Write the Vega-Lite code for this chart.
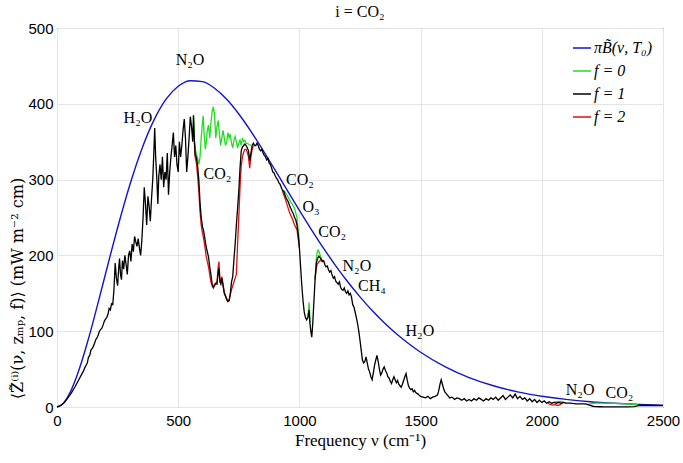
{
  "$schema": "https://vega.github.io/schema/vega-lite/v6.json",
  "width": 606,
  "height": 379,
  "autosize": "none",
  "padding": {"left": 57, "top": 28, "right": 20, "bottom": 56},
  "title": {"text": "i =  CO₂", "font": "Liberation Serif", "fontSize": 16, "fontWeight": "normal", "color": "black", "offset": 1},
  "datasets": {
    "blue": [
      {"nu": 0, "z": 0}, {"nu": 25, "z": 4.4}, {"nu": 50, "z": 16.6}, {"nu": 75, "z": 34.9}, {"nu": 100, "z": 58},
      {"nu": 125, "z": 84.7}, {"nu": 150, "z": 113.7}, {"nu": 175, "z": 144.3}, {"nu": 200, "z": 175.4}, {"nu": 225, "z": 206.4},
      {"nu": 250, "z": 236.5}, {"nu": 300, "z": 292.6}, {"nu": 350, "z": 340.5}, {"nu": 400, "z": 378.5}, {"nu": 450, "z": 406.1},
      {"nu": 500, "z": 423.2}, {"nu": 550, "z": 430.5}, {"nu": 600, "z": 429.3}, {"nu": 650, "z": 420.5}, {"nu": 700, "z": 405.9},
      {"nu": 750, "z": 386.5}, {"nu": 800, "z": 363.7}, {"nu": 850, "z": 338.7}, {"nu": 900, "z": 312.4}, {"nu": 950, "z": 285.8},
      {"nu": 1000, "z": 259.4}, {"nu": 1050, "z": 233.8}, {"nu": 1100, "z": 209.3}, {"nu": 1150, "z": 186.3}, {"nu": 1200, "z": 164.9},
      {"nu": 1250, "z": 145.3}, {"nu": 1300, "z": 127.3}, {"nu": 1350, "z": 111.2}, {"nu": 1400, "z": 96.6}, {"nu": 1450, "z": 83.7},
      {"nu": 1500, "z": 72.2}, {"nu": 1600, "z": 53.3}, {"nu": 1700, "z": 38.8}, {"nu": 1800, "z": 28.0}, {"nu": 1900, "z": 20.0},
      {"nu": 2000, "z": 14.2}, {"nu": 2100, "z": 10.0}, {"nu": 2200, "z": 7.0}, {"nu": 2300, "z": 4.9}, {"nu": 2400, "z": 3.4},
      {"nu": 2500, "z": 2.3}
    ],
    "black": [
      {"nu": 0, "z": 0}, {"nu": 15, "z": 2}, {"nu": 30, "z": 6}, {"nu": 45, "z": 12}, {"nu": 60, "z": 19}, {"nu": 75, "z": 27},
      {"nu": 90, "z": 36}, {"nu": 100, "z": 42}, {"nu": 110, "z": 48}, {"nu": 115, "z": 52}, {"nu": 120, "z": 55}, {"nu": 125, "z": 58},
      {"nu": 130, "z": 66}, {"nu": 135, "z": 68}, {"nu": 140, "z": 75}, {"nu": 145, "z": 77}, {"nu": 150, "z": 80}, {"nu": 155, "z": 84},
      {"nu": 160, "z": 89}, {"nu": 165, "z": 91}, {"nu": 170, "z": 95}, {"nu": 175, "z": 100}, {"nu": 180, "z": 102}, {"nu": 185, "z": 104},
      {"nu": 190, "z": 108}, {"nu": 195, "z": 113}, {"nu": 200, "z": 116}, {"nu": 205, "z": 118}, {"nu": 210, "z": 122}, {"nu": 215, "z": 130},
      {"nu": 220, "z": 128}, {"nu": 225, "z": 136}, {"nu": 230, "z": 135}, {"nu": 235, "z": 155}, {"nu": 240, "z": 190}, {"nu": 245, "z": 170},
      {"nu": 250, "z": 160}, {"nu": 255, "z": 185}, {"nu": 258, "z": 196}, {"nu": 262, "z": 175}, {"nu": 266, "z": 168}, {"nu": 270, "z": 193},
      {"nu": 275, "z": 182}, {"nu": 280, "z": 200}, {"nu": 285, "z": 188}, {"nu": 290, "z": 175}, {"nu": 295, "z": 200}, {"nu": 300, "z": 206},
      {"nu": 305, "z": 192}, {"nu": 310, "z": 215}, {"nu": 315, "z": 205}, {"nu": 320, "z": 225}, {"nu": 325, "z": 218}, {"nu": 330, "z": 212},
      {"nu": 335, "z": 222}, {"nu": 340, "z": 210}, {"nu": 345, "z": 200}, {"nu": 350, "z": 220}, {"nu": 355, "z": 250}, {"nu": 360, "z": 290},
      {"nu": 365, "z": 268}, {"nu": 370, "z": 240}, {"nu": 375, "z": 278}, {"nu": 380, "z": 265}, {"nu": 385, "z": 245}, {"nu": 390, "z": 275},
      {"nu": 395, "z": 300}, {"nu": 400, "z": 340}, {"nu": 403, "z": 368}, {"nu": 407, "z": 330}, {"nu": 412, "z": 300}, {"nu": 416, "z": 268},
      {"nu": 420, "z": 305}, {"nu": 425, "z": 320}, {"nu": 430, "z": 300}, {"nu": 435, "z": 330}, {"nu": 440, "z": 290}, {"nu": 445, "z": 310},
      {"nu": 450, "z": 300}, {"nu": 455, "z": 335}, {"nu": 460, "z": 280}, {"nu": 465, "z": 310}, {"nu": 470, "z": 330}, {"nu": 475, "z": 345},
      {"nu": 480, "z": 362}, {"nu": 485, "z": 330}, {"nu": 490, "z": 345}, {"nu": 495, "z": 320}, {"nu": 500, "z": 310}, {"nu": 505, "z": 350},
      {"nu": 510, "z": 330}, {"nu": 515, "z": 345}, {"nu": 520, "z": 365}, {"nu": 525, "z": 380}, {"nu": 530, "z": 355}, {"nu": 535, "z": 310},
      {"nu": 540, "z": 330}, {"nu": 545, "z": 355}, {"nu": 550, "z": 383}, {"nu": 555, "z": 370}, {"nu": 560, "z": 350}, {"nu": 563, "z": 385},
      {"nu": 567, "z": 350}, {"nu": 570, "z": 332}, {"nu": 575, "z": 330}, {"nu": 580, "z": 318}, {"nu": 585, "z": 300}, {"nu": 590, "z": 270},
      {"nu": 595, "z": 250}, {"nu": 600, "z": 238}, {"nu": 605, "z": 232}, {"nu": 610, "z": 222}, {"nu": 615, "z": 212}, {"nu": 620, "z": 205},
      {"nu": 625, "z": 198}, {"nu": 630, "z": 185}, {"nu": 635, "z": 175}, {"nu": 640, "z": 162}, {"nu": 645, "z": 158}, {"nu": 650, "z": 160},
      {"nu": 655, "z": 163}, {"nu": 660, "z": 162}, {"nu": 665, "z": 178}, {"nu": 668, "z": 183}, {"nu": 672, "z": 165}, {"nu": 676, "z": 162},
      {"nu": 680, "z": 170}, {"nu": 685, "z": 160}, {"nu": 690, "z": 150}, {"nu": 695, "z": 146}, {"nu": 700, "z": 142}, {"nu": 705, "z": 139},
      {"nu": 710, "z": 140}, {"nu": 715, "z": 150}, {"nu": 720, "z": 165}, {"nu": 725, "z": 172}, {"nu": 730, "z": 195}, {"nu": 735, "z": 215},
      {"nu": 740, "z": 240}, {"nu": 745, "z": 262}, {"nu": 750, "z": 285}, {"nu": 755, "z": 315}, {"nu": 760, "z": 338}, {"nu": 765, "z": 343},
      {"nu": 770, "z": 345}, {"nu": 775, "z": 347}, {"nu": 780, "z": 345}, {"nu": 785, "z": 342}, {"nu": 790, "z": 338}, {"nu": 795, "z": 325},
      {"nu": 800, "z": 335}, {"nu": 805, "z": 345}, {"nu": 810, "z": 348}, {"nu": 815, "z": 345}, {"nu": 820, "z": 345}, {"nu": 825, "z": 348},
      {"nu": 830, "z": 345}, {"nu": 835, "z": 340}, {"nu": 840, "z": 338}, {"nu": 845, "z": 340}, {"nu": 850, "z": 335}, {"nu": 855, "z": 332},
      {"nu": 860, "z": 330}, {"nu": 865, "z": 326}, {"nu": 870, "z": 328}, {"nu": 875, "z": 322}, {"nu": 880, "z": 320}, {"nu": 885, "z": 316},
      {"nu": 890, "z": 310}, {"nu": 895, "z": 309}, {"nu": 900, "z": 305}, {"nu": 905, "z": 302}, {"nu": 910, "z": 300}, {"nu": 915, "z": 296},
      {"nu": 920, "z": 294}, {"nu": 925, "z": 290}, {"nu": 930, "z": 286}, {"nu": 935, "z": 285}, {"nu": 940, "z": 280}, {"nu": 945, "z": 276},
      {"nu": 950, "z": 273}, {"nu": 955, "z": 270}, {"nu": 960, "z": 265}, {"nu": 965, "z": 262}, {"nu": 970, "z": 258}, {"nu": 975, "z": 255},
      {"nu": 980, "z": 250}, {"nu": 985, "z": 247}, {"nu": 990, "z": 240}, {"nu": 995, "z": 228}, {"nu": 1000, "z": 210}, {"nu": 1005, "z": 185},
      {"nu": 1010, "z": 160}, {"nu": 1015, "z": 140}, {"nu": 1020, "z": 125}, {"nu": 1025, "z": 118}, {"nu": 1030, "z": 115}, {"nu": 1035, "z": 118},
      {"nu": 1040, "z": 128}, {"nu": 1043, "z": 112}, {"nu": 1047, "z": 100}, {"nu": 1051, "z": 92}, {"nu": 1055, "z": 110}, {"nu": 1060, "z": 140},
      {"nu": 1065, "z": 170}, {"nu": 1070, "z": 190}, {"nu": 1075, "z": 196}, {"nu": 1080, "z": 199}, {"nu": 1085, "z": 197}, {"nu": 1090, "z": 195},
      {"nu": 1095, "z": 192}, {"nu": 1100, "z": 193}, {"nu": 1105, "z": 188}, {"nu": 1110, "z": 185}, {"nu": 1115, "z": 186}, {"nu": 1120, "z": 181},
      {"nu": 1125, "z": 178}, {"nu": 1130, "z": 180}, {"nu": 1135, "z": 174}, {"nu": 1140, "z": 170}, {"nu": 1145, "z": 172}, {"nu": 1150, "z": 166},
      {"nu": 1155, "z": 164}, {"nu": 1160, "z": 162}, {"nu": 1165, "z": 165}, {"nu": 1170, "z": 158}, {"nu": 1175, "z": 155}, {"nu": 1180, "z": 154},
      {"nu": 1185, "z": 157}, {"nu": 1190, "z": 152}, {"nu": 1195, "z": 150}, {"nu": 1200, "z": 153}, {"nu": 1205, "z": 148}, {"nu": 1210, "z": 150},
      {"nu": 1215, "z": 145}, {"nu": 1220, "z": 135}, {"nu": 1225, "z": 132}, {"nu": 1230, "z": 125}, {"nu": 1235, "z": 118}, {"nu": 1240, "z": 110},
      {"nu": 1245, "z": 100}, {"nu": 1250, "z": 88}, {"nu": 1255, "z": 75}, {"nu": 1260, "z": 62}, {"nu": 1265, "z": 58}, {"nu": 1270, "z": 60},
      {"nu": 1275, "z": 66}, {"nu": 1280, "z": 58}, {"nu": 1285, "z": 50}, {"nu": 1290, "z": 46}, {"nu": 1295, "z": 40}, {"nu": 1300, "z": 36},
      {"nu": 1305, "z": 45}, {"nu": 1310, "z": 55}, {"nu": 1315, "z": 62}, {"nu": 1320, "z": 68}, {"nu": 1325, "z": 60}, {"nu": 1330, "z": 50},
      {"nu": 1335, "z": 42}, {"nu": 1340, "z": 45}, {"nu": 1345, "z": 50}, {"nu": 1350, "z": 53}, {"nu": 1355, "z": 48}, {"nu": 1360, "z": 45},
      {"nu": 1365, "z": 40}, {"nu": 1370, "z": 38}, {"nu": 1375, "z": 34}, {"nu": 1380, "z": 31}, {"nu": 1385, "z": 36}, {"nu": 1390, "z": 40},
      {"nu": 1395, "z": 36}, {"nu": 1400, "z": 32}, {"nu": 1405, "z": 35}, {"nu": 1410, "z": 30}, {"nu": 1415, "z": 28}, {"nu": 1420, "z": 26},
      {"nu": 1425, "z": 30}, {"nu": 1430, "z": 35}, {"nu": 1435, "z": 40}, {"nu": 1440, "z": 44}, {"nu": 1445, "z": 35}, {"nu": 1450, "z": 28},
      {"nu": 1455, "z": 25}, {"nu": 1460, "z": 23}, {"nu": 1465, "z": 24}, {"nu": 1470, "z": 20}, {"nu": 1475, "z": 22}, {"nu": 1480, "z": 19},
      {"nu": 1485, "z": 18}, {"nu": 1490, "z": 17}, {"nu": 1495, "z": 15}, {"nu": 1500, "z": 14}, {"nu": 1510, "z": 13}, {"nu": 1520, "z": 12},
      {"nu": 1530, "z": 14}, {"nu": 1540, "z": 11}, {"nu": 1550, "z": 13}, {"nu": 1560, "z": 14}, {"nu": 1570, "z": 16}, {"nu": 1575, "z": 22},
      {"nu": 1580, "z": 30}, {"nu": 1585, "z": 36}, {"nu": 1590, "z": 30}, {"nu": 1595, "z": 24}, {"nu": 1600, "z": 20}, {"nu": 1605, "z": 18},
      {"nu": 1610, "z": 16}, {"nu": 1620, "z": 12}, {"nu": 1630, "z": 13}, {"nu": 1640, "z": 10}, {"nu": 1650, "z": 12}, {"nu": 1660, "z": 11},
      {"nu": 1670, "z": 9}, {"nu": 1680, "z": 11}, {"nu": 1690, "z": 8}, {"nu": 1700, "z": 10}, {"nu": 1710, "z": 8}, {"nu": 1720, "z": 11},
      {"nu": 1730, "z": 9}, {"nu": 1740, "z": 12}, {"nu": 1750, "z": 10}, {"nu": 1760, "z": 8}, {"nu": 1770, "z": 11}, {"nu": 1780, "z": 9},
      {"nu": 1790, "z": 12}, {"nu": 1800, "z": 10}, {"nu": 1810, "z": 13}, {"nu": 1820, "z": 9}, {"nu": 1830, "z": 12}, {"nu": 1840, "z": 15},
      {"nu": 1850, "z": 10}, {"nu": 1860, "z": 13}, {"nu": 1870, "z": 16}, {"nu": 1880, "z": 12}, {"nu": 1890, "z": 17}, {"nu": 1900, "z": 11},
      {"nu": 1910, "z": 14}, {"nu": 1920, "z": 10}, {"nu": 1930, "z": 12}, {"nu": 1940, "z": 8}, {"nu": 1950, "z": 11}, {"nu": 1960, "z": 7},
      {"nu": 1970, "z": 10}, {"nu": 1980, "z": 6}, {"nu": 1990, "z": 9}, {"nu": 2000, "z": 6}, {"nu": 2010, "z": 8}, {"nu": 2020, "z": 5},
      {"nu": 2030, "z": 7}, {"nu": 2040, "z": 5}, {"nu": 2050, "z": 6}, {"nu": 2060, "z": 5}, {"nu": 2070, "z": 6}, {"nu": 2080, "z": 5},
      {"nu": 2090, "z": 6}, {"nu": 2100, "z": 5}, {"nu": 2120, "z": 5}, {"nu": 2140, "z": 4}, {"nu": 2160, "z": 4}, {"nu": 2180, "z": 4},
      {"nu": 2190, "z": 3}, {"nu": 2200, "z": 2}, {"nu": 2210, "z": 1}, {"nu": 2220, "z": 0.5}, {"nu": 2240, "z": 0.3}, {"nu": 2260, "z": 0.2},
      {"nu": 2300, "z": 0.1}, {"nu": 2350, "z": 0.2}, {"nu": 2380, "z": 0.5}, {"nu": 2395, "z": 1.5}, {"nu": 2400, "z": 2}, {"nu": 2420, "z": 2},
      {"nu": 2450, "z": 2}, {"nu": 2500, "z": 1.8}
    ],
    "green": [
      {"seg": "a", "nu": 563, "z": 385}, {"seg": "a", "nu": 567, "z": 350}, {"seg": "a", "nu": 572, "z": 338}, {"seg": "a", "nu": 578, "z": 330},
      {"seg": "a", "nu": 585, "z": 320}, {"seg": "a", "nu": 590, "z": 330}, {"seg": "a", "nu": 595, "z": 355}, {"seg": "a", "nu": 600, "z": 375},
      {"seg": "a", "nu": 603, "z": 384}, {"seg": "a", "nu": 607, "z": 360}, {"seg": "a", "nu": 612, "z": 340}, {"seg": "a", "nu": 616, "z": 350},
      {"seg": "a", "nu": 620, "z": 365}, {"seg": "a", "nu": 625, "z": 372}, {"seg": "a", "nu": 630, "z": 355}, {"seg": "a", "nu": 635, "z": 375},
      {"seg": "a", "nu": 640, "z": 390}, {"seg": "a", "nu": 645, "z": 396}, {"seg": "a", "nu": 650, "z": 385}, {"seg": "a", "nu": 655, "z": 355},
      {"seg": "a", "nu": 660, "z": 370}, {"seg": "a", "nu": 665, "z": 378}, {"seg": "a", "nu": 670, "z": 360}, {"seg": "a", "nu": 675, "z": 345},
      {"seg": "a", "nu": 680, "z": 355}, {"seg": "a", "nu": 685, "z": 365}, {"seg": "a", "nu": 690, "z": 355}, {"seg": "a", "nu": 695, "z": 345},
      {"seg": "a", "nu": 700, "z": 350}, {"seg": "a", "nu": 705, "z": 362}, {"seg": "a", "nu": 710, "z": 355}, {"seg": "a", "nu": 715, "z": 360},
      {"seg": "a", "nu": 720, "z": 348}, {"seg": "a", "nu": 725, "z": 342}, {"seg": "a", "nu": 730, "z": 352}, {"seg": "a", "nu": 735, "z": 357},
      {"seg": "a", "nu": 740, "z": 350}, {"seg": "a", "nu": 745, "z": 342}, {"seg": "a", "nu": 750, "z": 348}, {"seg": "a", "nu": 755, "z": 352},
      {"seg": "a", "nu": 760, "z": 345}, {"seg": "a", "nu": 765, "z": 355}, {"seg": "a", "nu": 770, "z": 350}, {"seg": "a", "nu": 775, "z": 352},
      {"seg": "a", "nu": 780, "z": 348}, {"seg": "a", "nu": 790, "z": 347}, {"seg": "a", "nu": 800, "z": 345},
      {"seg": "b", "nu": 930, "z": 286}, {"seg": "b", "nu": 940, "z": 284}, {"seg": "b", "nu": 950, "z": 279}, {"seg": "b", "nu": 960, "z": 273},
      {"seg": "b", "nu": 970, "z": 268}, {"seg": "b", "nu": 980, "z": 262}, {"seg": "b", "nu": 990, "z": 250}, {"seg": "b", "nu": 1000, "z": 215},
      {"seg": "c", "nu": 1035, "z": 118}, {"seg": "c", "nu": 1040, "z": 138}, {"seg": "c", "nu": 1044, "z": 112},
      {"seg": "d", "nu": 1065, "z": 170}, {"seg": "d", "nu": 1069, "z": 192}, {"seg": "d", "nu": 1073, "z": 204}, {"seg": "d", "nu": 1077, "z": 207},
      {"seg": "d", "nu": 1082, "z": 204}, {"seg": "d", "nu": 1088, "z": 198}, {"seg": "d", "nu": 1095, "z": 192},
      {"seg": "e", "nu": 2040, "z": 5}, {"seg": "e", "nu": 2060, "z": 7}, {"seg": "e", "nu": 2080, "z": 7.5}, {"seg": "e", "nu": 2100, "z": 5},
      {"seg": "f", "nu": 2190, "z": 3.5}, {"seg": "f", "nu": 2220, "z": 5}, {"seg": "f", "nu": 2250, "z": 5.2}, {"seg": "f", "nu": 2300, "z": 4.7},
      {"seg": "f", "nu": 2350, "z": 4.2}, {"seg": "f", "nu": 2390, "z": 3.6}, {"seg": "f", "nu": 2400, "z": 2}
    ],
    "red": [
      {"seg": "a", "nu": 567, "z": 350}, {"seg": "a", "nu": 570, "z": 330}, {"seg": "a", "nu": 575, "z": 322}, {"seg": "a", "nu": 580, "z": 305},
      {"seg": "a", "nu": 585, "z": 285}, {"seg": "a", "nu": 590, "z": 258}, {"seg": "a", "nu": 595, "z": 240}, {"seg": "a", "nu": 600, "z": 230},
      {"seg": "a", "nu": 605, "z": 222}, {"seg": "a", "nu": 610, "z": 212}, {"seg": "a", "nu": 615, "z": 200}, {"seg": "a", "nu": 620, "z": 192},
      {"seg": "a", "nu": 625, "z": 185}, {"seg": "a", "nu": 630, "z": 175}, {"seg": "a", "nu": 635, "z": 165}, {"seg": "a", "nu": 640, "z": 160},
      {"seg": "a", "nu": 645, "z": 157}, {"seg": "a", "nu": 650, "z": 162}, {"seg": "a", "nu": 655, "z": 163}, {"seg": "a", "nu": 660, "z": 165},
      {"seg": "a", "nu": 665, "z": 185}, {"seg": "a", "nu": 668, "z": 192}, {"seg": "a", "nu": 672, "z": 170}, {"seg": "a", "nu": 676, "z": 165},
      {"seg": "a", "nu": 680, "z": 172}, {"seg": "a", "nu": 685, "z": 162}, {"seg": "a", "nu": 690, "z": 152}, {"seg": "a", "nu": 695, "z": 147},
      {"seg": "a", "nu": 700, "z": 143}, {"seg": "a", "nu": 705, "z": 140}, {"seg": "a", "nu": 710, "z": 141}, {"seg": "a", "nu": 715, "z": 148},
      {"seg": "a", "nu": 720, "z": 155}, {"seg": "a", "nu": 725, "z": 160}, {"seg": "a", "nu": 730, "z": 165}, {"seg": "a", "nu": 735, "z": 170},
      {"seg": "a", "nu": 740, "z": 175}, {"seg": "a", "nu": 745, "z": 215}, {"seg": "a", "nu": 750, "z": 250}, {"seg": "a", "nu": 755, "z": 290},
      {"seg": "a", "nu": 760, "z": 318}, {"seg": "a", "nu": 765, "z": 330}, {"seg": "a", "nu": 770, "z": 336}, {"seg": "a", "nu": 775, "z": 340},
      {"seg": "a", "nu": 780, "z": 340}, {"seg": "a", "nu": 785, "z": 336}, {"seg": "a", "nu": 790, "z": 330}, {"seg": "a", "nu": 795, "z": 315},
      {"seg": "a", "nu": 800, "z": 330}, {"seg": "a", "nu": 805, "z": 340}, {"seg": "a", "nu": 810, "z": 345},
      {"seg": "b", "nu": 930, "z": 285}, {"seg": "b", "nu": 940, "z": 276}, {"seg": "b", "nu": 950, "z": 266}, {"seg": "b", "nu": 960, "z": 256},
      {"seg": "b", "nu": 970, "z": 249}, {"seg": "b", "nu": 980, "z": 240}, {"seg": "b", "nu": 990, "z": 234}, {"seg": "b", "nu": 1000, "z": 210},
      {"seg": "c", "nu": 1065, "z": 168}, {"seg": "c", "nu": 1069, "z": 182}, {"seg": "c", "nu": 1073, "z": 188}, {"seg": "c", "nu": 1077, "z": 190},
      {"seg": "c", "nu": 1082, "z": 192}, {"seg": "c", "nu": 1088, "z": 194}, {"seg": "c", "nu": 1095, "z": 192},
      {"seg": "d", "nu": 2025, "z": 5}, {"seg": "d", "nu": 2035, "z": 3}, {"seg": "d", "nu": 2045, "z": 2.5}, {"seg": "d", "nu": 2055, "z": 3},
      {"seg": "d", "nu": 2065, "z": 2}, {"seg": "d", "nu": 2075, "z": 3}, {"seg": "d", "nu": 2085, "z": 5}
    ],
    "labels": [
      {"nu": 549, "z": 458, "txt": "N₂O"},
      {"nu": 334, "z": 381, "txt": "H₂O"},
      {"nu": 662, "z": 307, "txt": "CO₂"},
      {"nu": 1002, "z": 300, "txt": "CO₂"},
      {"nu": 1048, "z": 264, "txt": "O₃"},
      {"nu": 1135, "z": 231, "txt": "CO₂"},
      {"nu": 1237, "z": 186, "txt": "N₂O"},
      {"nu": 1299, "z": 159, "txt": "CH₄"},
      {"nu": 1497, "z": 100, "txt": "H₂O"},
      {"nu": 2158, "z": 22, "txt": "N₂O"},
      {"nu": 2320, "z": 18, "txt": "CO₂"}
    ]
  },
  "encoding": {
    "x": {
      "field": "nu", "type": "quantitative",
      "scale": {"domain": [0, 2500], "nice": false},
      "axis": {"values": [0, 500, 1000, 1500, 2000, 2500], "format": "d", "labelFlush": false, "title": "Frequency ν (cm⁻¹)", "labelPadding": 6, "titlePadding": 4}
    },
    "y": {
      "field": "z", "type": "quantitative",
      "scale": {"domain": [0, 500], "nice": false},
      "axis": {"values": [0, 100, 200, 300, 400, 500], "format": "d", "labelFlush": false, "title": "⟨Z̃⁽ⁱ⁾(ν, zₘₚ, f)⟩  (mW  m⁻²  cm)", "titleFont": "DejaVu Serif", "titleFontSize": 16, "labelPadding": 4, "titlePadding": 2, "titleY": 260}
    }
  },
  "layer": [
    {
      "data": {"name": "blue"},
      "mark": {"type": "line", "strokeWidth": 1.4, "interpolate": "monotone"},
      "encoding": {
        "color": {
          "datum": "πB̃(ν, T₀)", "type": "nominal",
          "scale": {"domain": ["πB̃(ν, T₀)", "f = 0", "f = 1", "f = 2"], "range": ["#1414c8", "#22dd22", "#000000", "#dd1111"]},
          "legend": {"title": null}
        }
      }
    },
    {
      "data": {"name": "green"},
      "mark": {"type": "line", "strokeWidth": 1.3},
      "encoding": {"color": {"datum": "f = 0", "type": "nominal"}, "detail": {"field": "seg"}}
    },
    {
      "data": {"name": "red"},
      "mark": {"type": "line", "strokeWidth": 1.3},
      "encoding": {"color": {"datum": "f = 2", "type": "nominal"}, "detail": {"field": "seg"}}
    },
    {
      "data": {"name": "black"},
      "mark": {"type": "line", "strokeWidth": 1.3},
      "encoding": {"color": {"datum": "f = 1", "type": "nominal"}}
    },
    {
      "data": {"name": "labels"},
      "mark": {"type": "text", "font": "Liberation Serif", "fontSize": 16, "color": "black", "align": "center", "baseline": "middle"},
      "encoding": {"text": {"field": "txt"}}
    }
  ],
  "config": {
    "view": {"stroke": "black", "strokeWidth": 1},
    "axis": {
      "grid": true, "gridColor": "#e4e4e4", "ticks": false, "domain": false,
      "labelFont": "Liberation Sans", "labelFontSize": 15, "labelColor": "black",
      "titleFont": "Liberation Serif", "titleFontSize": 17, "titleFontWeight": "normal", "titleColor": "black"
    },
    "legend": {
      "orient": "top-right", "offset": 8, "padding": 2,
      "labelFont": "Liberation Serif", "labelFontStyle": "italic", "labelFontSize": 16, "labelColor": "black",
      "symbolType": "stroke", "symbolSize": 324, "symbolStrokeWidth": 1.5, "rowPadding": 5, "labelOffset": 2
    }
  }
}
